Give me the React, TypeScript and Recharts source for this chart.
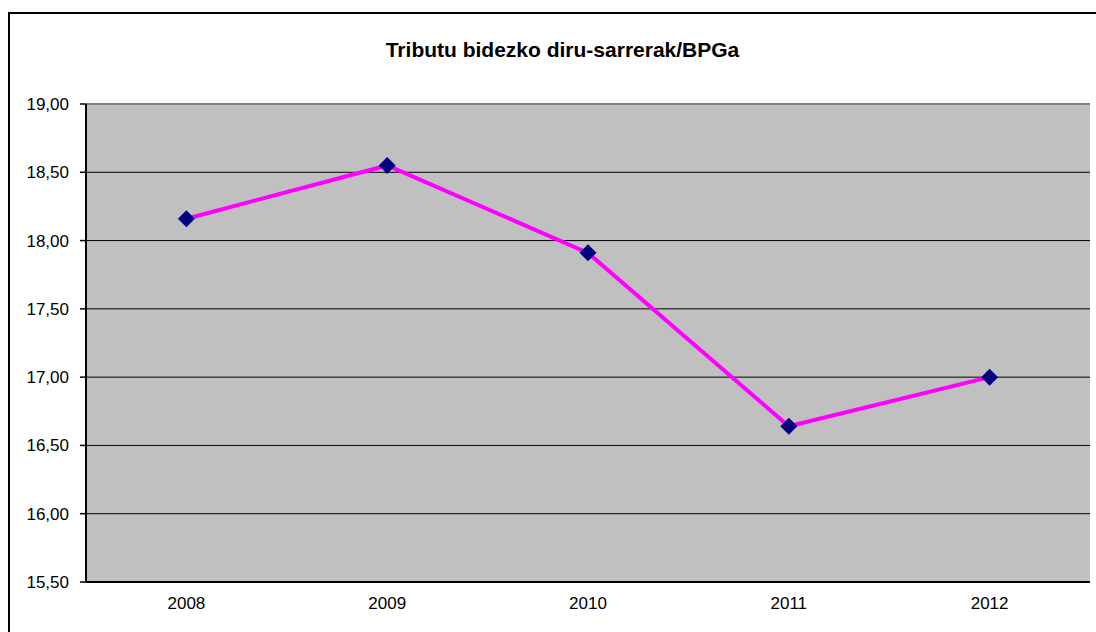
import React from "react";
import { LineChart, Line, XAxis, YAxis, CartesianGrid, ReferenceLine } from "recharts";

const years = ["2008", "2009", "2010", "2011", "2012"];
const ratio = [18.16, 18.55, 17.91, 16.64, 17.0];
const yTicks = [15.5, 16, 16.5, 17, 17.5, 18, 18.5, 19];

const data = years.map((year, i) => ({ year, value: ratio[i] }));
const bounds = Array.from({ length: years.length + 1 }, (_, i) => i);

const FONT = "'Liberation Sans', Arial, sans-serif";

function Diamond({ cx, cy }: { cx?: number; cy?: number }) {
  if (cx == null || cy == null) return null;
  const s = 8.5;
  return <polygon points={`${cx},${cy - s} ${cx + s},${cy} ${cx},${cy + s} ${cx - s},${cy}`} fill="#000080" />;
}

export default function App() {
  return (
    <div style={{ position: "absolute", left: 0, top: 0, width: 1096, height: 632, overflow: "hidden", background: "#fff", fontFamily: FONT }}>
      <div style={{ position: "absolute", left: 8, top: 12, width: 1200, height: 800, border: "2px solid #000", boxSizing: "border-box" }} />
      <div style={{ position: "absolute", left: 0, top: 38, width: 1125, textAlign: "center", fontSize: 21, fontWeight: "bold", lineHeight: "24px", color: "#000" }}>
        Tributu bidezko diru-sarrerak/BPGa
      </div>
      <div style={{ position: "absolute", left: 0, top: 0 }}>
        <LineChart width={1096} height={632} data={data} margin={{ top: 104, right: 6, bottom: 0, left: 0 }}>
          <CartesianGrid vertical={false} stroke="#000" strokeWidth={1} fill="#c0c0c0" fillOpacity={1} />
          <XAxis xAxisId="b" type="number" domain={[0, years.length]} ticks={bounds} height={0}
            tickFormatter={() => ""} axisLine={false} tickLine={{ stroke: "#000", strokeWidth: 1.5 }} tickSize={5} />
          <XAxis dataKey="year" scale="band" height={50} tickLine={false}
            axisLine={{ stroke: "#000", strokeWidth: 2 }} tickMargin={9}
            tick={{ fill: "#000", fontSize: 17, fontFamily: FONT }} />
          <YAxis domain={[15.5, 19]} ticks={yTicks} width={86} tickSize={6} tickMargin={11}
            tickFormatter={(v: number) => v.toFixed(2).replace(".", ",")}
            axisLine={{ stroke: "#000", strokeWidth: 2 }} tickLine={{ stroke: "#000", strokeWidth: 1.5 }}
            tick={{ fill: "#000", fontSize: 17, fontFamily: FONT }} />
          <ReferenceLine y={19} stroke="#808080" strokeWidth={2} />
          <ReferenceLine xAxisId="b" x={years.length} stroke="#808080" strokeWidth={2} />
          <Line dataKey="value" stroke="#ff00ff" strokeWidth={4} dot={<Diamond />} activeDot={false} isAnimationActive={false} />
        </LineChart>
      </div>
    </div>
  );
}
